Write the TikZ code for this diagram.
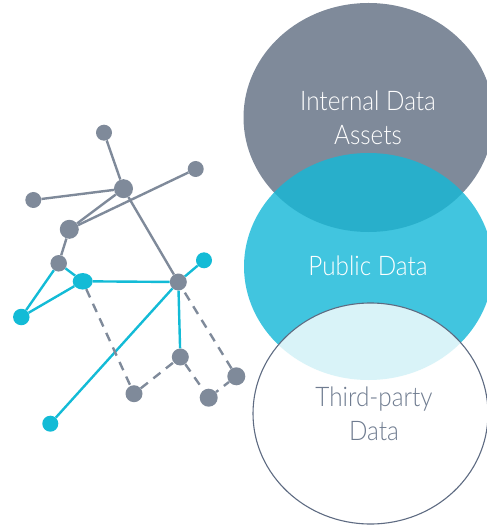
\documentclass[tikz,border=0pt]{standalone}
\usepackage{fontspec}
\usetikzlibrary{shapes.geometric}
\setmainfont[FakeStretch=0.9]{Lato Light}
\definecolor{gr}{HTML}{7F8A9A}
\definecolor{cy}{HTML}{13BBD6}
\definecolor{pub}{HTML}{15B8D7}
\definecolor{edgeb}{HTML}{5E6B82}
\definecolor{txt}{HTML}{6F7C90}
\tikzset{
  g/.style={circle,fill=gr,inner sep=0pt,minimum size=#1},
  c/.style={circle,fill=cy,inner sep=0pt,minimum size=#1},
  gl/.style={gr,line width=2.4pt},
  cl/.style={cy,line width=2.4pt},
  dl/.style={gr,line width=2.4pt,dash pattern=on 9pt off 7pt},
  lab/.style={font=\fontsize{27}{34}\selectfont,align=center}
}
\begin{document}
\begin{tikzpicture}[x=1pt,y=-1pt]
\useasboundingbox (0,0) rectangle (486,526);
% circles
\path[fill=gr] (368.5,117.5) ellipse [x radius=125,y radius=114.5];
\path[fill=pub,fill opacity=.81] (368.5,266.5) ellipse [x radius=124.5,y radius=113.5];
\path[fill=white,fill opacity=.8,draw=edgeb,draw opacity=1,line width=1.1pt] (370.5,413.5) ellipse [x radius=117.5,y radius=110.5];
\node[lab,text=white] (t1) at (368,118) {Internal Data\\Assets};
\node[lab,text=white] (t2) at (368,266) {Public Data};
\node[lab,text=txt] (t3) at (374,414) {Third-party\\Data};
% nodes
\node[g=16pt] (A) at (104,132.7) {};
\node[g=19pt] (B) at (123.5,188.7) {};
\node[g=16pt] (C) at (195.7,169) {};
\node[g=16pt] (D) at (33.3,200) {};
\node[g=19pt] (E) at (69.3,229.3) {};
\node[g=16.5pt] (F) at (58.7,263.3) {};
\node[ellipse,fill=cy,inner sep=0pt,minimum width=20pt,minimum height=16.5pt] (G) at (82.7,281.3) {};
\node[c=16.5pt] (H) at (21.3,317) {};
\node[c=16pt] (I) at (204,260.3) {};
\node[g=17pt] (J) at (178.3,282) {};
\node[g=17pt] (K) at (180.3,357) {};
\node[g=17pt] (L) at (134,393.7) {};
\node[g=18pt] (M) at (208.7,397.7) {};
\node[g=18pt] (N) at (236.3,376.3) {};
\node[c=16pt] (O) at (50.3,423.7) {};
% connectors
\draw[gl] (A) -- (B);
\draw[gl] (D) -- (B);
\draw[gl] (B) -- (E);
\draw[gl] (E) -- (C);
\draw[gl] (E) -- (F);
\draw[gl] (B) -- (J);
\draw[cl] (F) -- (G);
\draw[cl] (F) -- (H);
\draw[cl] (G) -- (H);
\draw[cl] (G) -- (J);
\draw[cl] (J) -- (I);
\draw[cl] (J) -- (O);
\draw[cl] (J) -- (K);
\draw[dl] (G) -- (L);
\draw[dl] (L) -- (K);
\draw[dl] (K) -- (M);
\draw[dl,dash phase=6pt] (M) -- (N);
\draw[dl] (N) -- (J);
\end{tikzpicture}
\end{document}
